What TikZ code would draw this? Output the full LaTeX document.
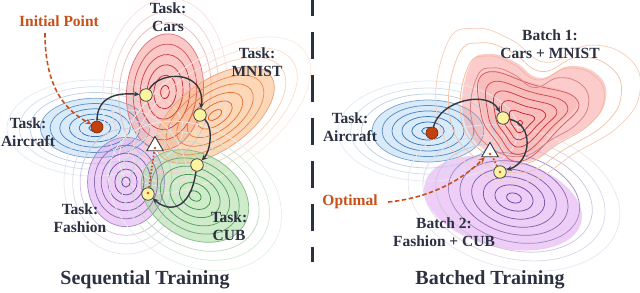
\documentclass[tikz,border=0pt]{standalone}
\usepackage{fontspec}
\setmainfont{Liberation Serif}
\usetikzlibrary{arrows.meta,shapes.geometric}
\definecolor{tblue}{HTML}{1F64B0}
\definecolor{tred}{HTML}{C0161B}
\definecolor{torange}{HTML}{E2621B}
\definecolor{tpurple}{HTML}{5E3A9A}
\definecolor{tgreen}{HTML}{2E8B3A}
\definecolor{fblue}{HTML}{BFDDF5}
\definecolor{fred}{HTML}{F7A3A0}
\definecolor{forange}{HTML}{FBBE88}
\definecolor{fpurple}{HTML}{E2AEF2}
\definecolor{fgreen}{HTML}{AEDDA6}
\definecolor{txt}{HTML}{2B3140}
\definecolor{acc}{HTML}{C8501A}
\definecolor{pathc}{HTML}{333740}
\definecolor{yel}{HTML}{FBF39E}
\definecolor{startc}{HTML}{C2410C}
\tikzset{
 trail/.style={draw=pathc, line width=1.4pt, -{Stealth[length=5.5pt,width=5pt]}},
 ypt/.style={circle, draw=pathc, line width=0.7pt, fill=yel, minimum size=12.5pt, inner sep=0pt},
 startpt/.style={circle, draw=startc!60!black, fill=startc, minimum size=12pt, inner sep=0pt, line width=0.6pt},
 optri/.style={regular polygon, regular polygon sides=3, draw=pathc, fill=white, line width=0.9pt, minimum size=19pt, inner sep=0pt},
 lbl/.style={text=txt, font=\fontsize{15.5}{18}\selectfont\bfseries, align=center},
 ttl/.style={text=txt, font=\fontsize{20}{22}\selectfont\bfseries},
 acclbl/.style={text=acc, font=\fontsize{15.5}{18}\selectfont\bfseries},
 accarrow/.style={draw=acc, line width=1.6pt, dash pattern=on 4.5pt off 2.5pt, -{Stealth[length=6pt,width=5.5pt]}},
 accdots/.style={draw=acc, line width=1.6pt, dash pattern=on 1.6pt off 1.8pt},
}
\newcommand\ctrfill[6]{%
 \begin{scope}[shift={(#1,#2)},rotate=#5]
 \fill[#6, opacity=0.6] (0,0) ellipse [x radius=0.62*#3, y radius=0.62*#4];
 \end{scope}}
\newcommand\ctrlines[6]{%
 \begin{scope}[shift={(#1,#2)},rotate=#5]
 \foreach \s/\o in {0.07/100,0.18/92,0.29/86,0.40/80,0.51/72,0.62/58,0.74/30,0.86/20,1.0/13}
  \draw[#6!\o!white, line width=0.75pt] (0,0) ellipse [x radius=\s*#3, y radius=\s*#4];
 \end{scope}}
\begin{document}
\begin{tikzpicture}[x=1pt,y=-1pt]
\useasboundingbox (0,0) rectangle (640,292);
\begin{scope}
\clip (0,0) rectangle (640,292);
% ---------- left panel fills
\ctrfill{95}{128}{88}{48}{0}{fblue}
\ctrfill{165}{92}{62}{94}{-5}{fred}
\ctrfill{215}{115}{110}{56}{35}{forange}
\ctrfill{126}{182}{62}{72}{0}{fpurple}
\ctrfill{195}{196}{92}{68}{-30}{fgreen}
% right panel fills
\ctrfill{428}{131}{90}{50}{0}{fblue}
\begin{scope}[shift={(520,120)}]
 \fill[fred, opacity=0.55] plot[smooth cycle, tension=0.75] coordinates {(-50,-55) (-30,-66) (-5,-58) (20,-42) (50,-54) (78,-45) (86,-22) (72,2) (40,22) (5,42) (-35,30) (-57,-5)};
 \begin{scope}[scale=0.62]
 \fill[fred, opacity=0.35] plot[smooth cycle, tension=0.8] coordinates {(-55,-78) (20,-60) (90,-35) (60,10) (0,60) (-40,25) (-62,-20)};
 \end{scope}
\end{scope}
\ctrfill{503}{203}{130}{72}{-14}{fpurple}
% ---------- left panel contour lines
\ctrlines{95}{128}{88}{48}{0}{tblue}
\ctrlines{165}{92}{62}{94}{-5}{tred}
\ctrlines{215}{115}{110}{56}{35}{torange}
\ctrlines{126}{182}{62}{72}{0}{tpurple}
\ctrlines{195}{196}{92}{68}{-30}{tgreen}
% right panel contour lines
\ctrlines{428}{131}{90}{50}{0}{tblue}
\ctrlines{514}{198}{108}{70}{-15}{tpurple}
\draw[tred, line width=0.75pt] (520,123) circle (2.5pt);
\foreach \s/\c in {0.16/tred!95!white,0.28/tred!90!white,0.40/tred!85!white,0.52/tred!78!white,0.64/tred!70!white}{
 \begin{scope}[shift={(520,123)},scale=\s]
 \draw[\c, line width=0.75pt] plot[smooth cycle, tension=0.8] coordinates {(-55,-78) (20,-60) (90,-35) (60,10) (0,60) (-40,25) (-62,-20)};
 \end{scope}}
\foreach \s/\c in {0.82/tred!55!white,1.0/torange!45!white,1.2/torange!38!white,1.42/torange!30!white}{
 \begin{scope}[shift={(518,122)},scale=\s]
 \draw[\c, line width=0.75pt] plot[smooth cycle, tension=0.75] coordinates {(-50,-55) (-30,-66) (-5,-58) (20,-42) (50,-54) (78,-45) (86,-22) (72,2) (40,22) (5,42) (-35,30) (-57,-5)};
 \end{scope}}
\end{scope}
% ---------- divider
\draw[txt, line width=3pt, dash pattern=on 27pt off 16pt] (312,-11) -- (312,262);
% ---------- left panel path
\node[startpt] (s0) at (97,127) {};
\node[ypt] (y1) at (146,95) {};
\node[ypt] (y2) at (200,115) {};
\node[ypt] (y3) at (197,165) {};
\node[ypt] (y4) at (148,194) {};
\node[optri] (t0) at (155,146) {};
\fill[acc] (t0.center) ++(0,2) circle (1.3pt);
\draw[trail] (s0) .. controls (97,100) and (112,92) .. (y1);
\draw[trail] (y1) .. controls (160,70) and (206,70) .. (y2);
\draw[trail] (y2) .. controls (214,128) and (210,152) .. (y3);
\draw[trail] (y3) .. controls (190,212) and (168,212) .. (y4);
\draw[accdots] (y4) -- (t0);
\fill[acc] (y4) ++(0,-1) circle (1.3pt);
\node[acclbl] (ip) at (59,21) {Initial Point};
\coordinate (ipa) at (45,33);
\draw[accarrow] (ipa) .. controls (45,80) and (60,108) .. (s0);
% labels left
\node[lbl] (lcars) at (168,17) {Task:\\Cars};
\node[lbl] (lmnist) at (257,62) {Task:\\MNIST};
\node[lbl] (lair) at (28,132) {Task:\\Aircraft};
\node[lbl] (lfash) at (80,218) {Task:\\Fashion};
\node[lbl] (lcub) at (229,226) {Task:\\CUB};
\node[ttl] (tseq) at (145,280) {Sequential Training};
% ---------- right panel path
\node[startpt] (s1) at (432,133) {};
\node[ypt] (y5) at (503,118) {};
\node[ypt] (y6) at (500,172) {};
\node[optri] (t1) at (490,152) {};
\fill[acc] (t1.center) ++(0,2) circle (1.3pt);
\draw[trail] (s1) .. controls (440,100) and (488,90) .. (y5);
\draw[trail] (y5) .. controls (534,124) and (532,162) .. (y6);
\draw[accdots] (y6) -- (t1);
\fill[acc] (y6) circle (1.3pt);
\node[acclbl] (opt) at (350,202) {Optimal};
\coordinate (opa) at (388,202);
\draw[accarrow] (opa) .. controls (430,198) and (462,180) .. (t1);
% labels right
\node[lbl] (lb1) at (550,44) {Batch 1:\\Cars + MNIST};
\node[lbl] (lair2) at (350,127) {Task:\\Aircraft};
\node[lbl] (lb2) at (444,232) {Batch 2:\\Fashion + CUB};
\node[ttl] (tbat) at (490,280) {Batched Training};
\end{tikzpicture}
\end{document}
